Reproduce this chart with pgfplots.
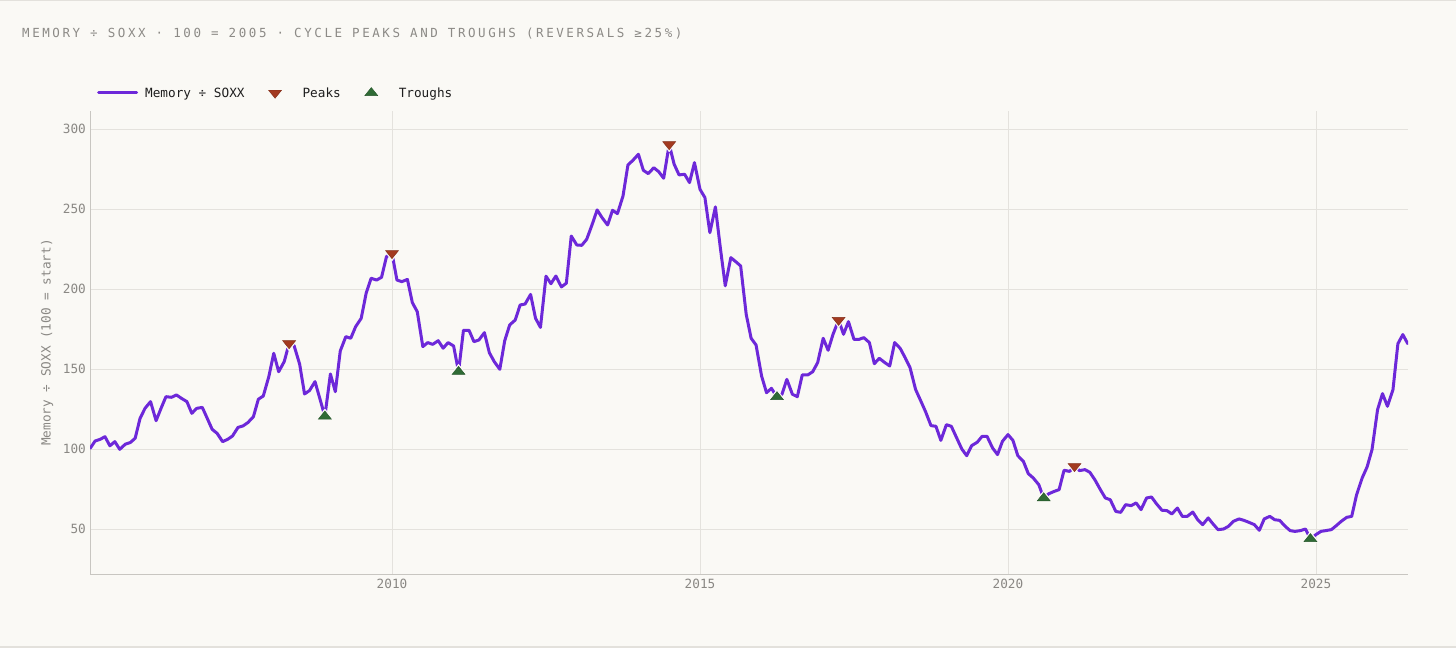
\documentclass[border=0pt]{standalone}
\usepackage{fontspec}
\setmainfont{DejaVu Sans Mono}
\newfontfamily\titlefont[LetterSpace=20.5]{DejaVu Sans Mono}
\usepackage{pgfplots}
\usepackage{pgfplotstable}
\pgfplotsset{compat=1.18}
\definecolor{bg}{HTML}{FAF9F5}
\definecolor{linec}{HTML}{6D28D9}
\definecolor{peakc}{HTML}{A33A20}
\definecolor{troughc}{HTML}{2F6B35}
\definecolor{gridc}{HTML}{E4E2DD}
\definecolor{axisc}{HTML}{C8C6C1}
\definecolor{tickc}{HTML}{8A8884}
\definecolor{titlec}{HTML}{8C8A86}
\definecolor{legc}{HTML}{1E1E1E}
\definecolor{bordc}{HTML}{E3E1DC}

\pgfplotsset{
  lineleg/.style={legend image code/.code={\draw[##1] (0pt,0pt) -- (38pt,0pt);}},
  markleg/.style={legend image code/.code={\path[draw=none,fill=none] (0pt,-4.5pt) (27pt,4.5pt);
    \draw[mark repeat=2, mark phase=2, ##1] plot coordinates {(0pt,0pt) (6.5pt,0pt) (13pt,0pt)};}},
}

\pgfplotstableread{
x y
2005.10 100.4
2005.18 105
2005.26 106
2005.34 107.7
2005.42 102
2005.50 104.6
2005.58 99.8
2005.67 103
2005.75 104
2005.83 106.7
2005.91 119.2
2005.99 125.4
2006.08 129.6
2006.17 117.7
2006.25 125.4
2006.33 132.7
2006.42 132.3
2006.50 133.8
2006.58 131.7
2006.67 129.6
2006.75 122.3
2006.83 125.4
2006.92 126
2007.00 119.2
2007.08 112.3
2007.16 109.8
2007.25 104.6
2007.33 106
2007.41 108.1
2007.50 113.5
2007.58 114.4
2007.66 116.5
2007.75 120.2
2007.83 131.1
2007.91 133.1
2008.00 145.2
2008.08 159.8
2008.16 148.3
2008.25 154.6
2008.33 166
2008.41 164.6
2008.50 153.1
2008.58 134.4
2008.66 136.5
2008.75 142.1
2008.83 131.3
2008.91 120.4
2009.00 146.9
2009.08 135.8
2009.16 161.3
2009.25 170.2
2009.33 169.2
2009.41 176.5
2009.50 181.7
2009.58 197.3
2009.66 206.7
2009.75 205.6
2009.83 207.3
2009.91 220.2
2010.00 222.3
2010.08 205.6
2010.16 204.6
2010.25 206
2010.33 191.5
2010.41 185.8
2010.50 164
2010.58 166.5
2010.66 165.4
2010.75 167.7
2010.83 163
2010.91 166.5
2011.00 164.4
2011.08 148.3
2011.16 174.2
2011.25 174.2
2011.33 167.1
2011.41 168.1
2011.50 172.7
2011.58 160.2
2011.66 154.6
2011.75 149.8
2011.83 167.7
2011.91 177.5
2012.00 180.6
2012.08 190
2012.16 190.6
2012.25 196.6
2012.33 181.7
2012.41 176
2012.50 208
2012.58 203.3
2012.66 208.1
2012.75 201.3
2012.83 203.6
2012.91 233.1
2013.00 227.5
2013.08 227.3
2013.16 231
2013.25 240.4
2013.33 249.4
2013.41 244.6
2013.50 240
2013.58 249.2
2013.66 247.1
2013.75 258.1
2013.83 277.5
2013.91 280.4
2014.00 284.2
2014.08 274.2
2014.16 272.1
2014.25 275.8
2014.33 273.3
2014.41 269.2
2014.50 290.4
2014.58 278
2014.66 271.3
2014.75 271.7
2014.83 266.5
2014.91 279
2015.00 262.3
2015.08 257.1
2015.16 235.2
2015.25 251.3
2015.33 225.8
2015.41 202
2015.50 219.6
2015.58 217.1
2015.66 214.4
2015.75 184.2
2015.83 169.2
2015.91 165
2016.00 145.6
2016.08 135.2
2016.16 137.9
2016.25 132.5
2016.33 134.2
2016.41 143.5
2016.50 134.2
2016.58 132.7
2016.66 146.3
2016.75 146.3
2016.83 148.3
2016.91 154
2017.00 169.2
2017.08 161.7
2017.16 171.7
2017.25 180.6
2017.33 171.7
2017.41 179.6
2017.50 168.5
2017.58 168.5
2017.66 169.6
2017.75 166.5
2017.83 153.3
2017.91 156.7
2018.00 154
2018.08 151.9
2018.16 166.5
2018.25 162.9
2018.33 157.1
2018.41 150.8
2018.50 137.2
2018.58 130.4
2018.66 123.5
2018.75 114.6
2018.83 114.2
2018.91 105.4
2019.00 115.2
2019.08 114.2
2019.16 107.5
2019.25 100
2019.33 95.8
2019.41 102.1
2019.50 104.2
2019.58 107.9
2019.66 107.9
2019.75 100.6
2019.83 96.5
2019.91 104.8
2020.00 109
2020.08 105.4
2020.16 95.8
2020.25 92.3
2020.33 84.6
2020.41 81.9
2020.50 77.7
2020.58 69.3
2020.66 72
2020.75 73.5
2020.83 74.6
2020.91 86.7
2021.00 86
2021.08 89.2
2021.16 86.5
2021.25 87.1
2021.33 85.4
2021.41 80.8
2021.50 74.6
2021.58 69.4
2021.66 68.3
2021.75 61
2021.83 60.4
2021.91 65.2
2022.00 64.6
2022.08 66.3
2022.16 62.1
2022.25 69.4
2022.33 70
2022.41 65.8
2022.50 61.7
2022.58 61.5
2022.66 59.4
2022.75 63.1
2022.83 57.9
2022.91 57.9
2023.00 60.6
2023.08 55.8
2023.16 52.7
2023.25 56.9
2023.33 53.1
2023.41 49.6
2023.50 50
2023.58 51.7
2023.66 54.8
2023.75 56.3
2023.83 55.4
2023.91 54.2
2024.00 52.7
2024.08 49.2
2024.16 56.3
2024.25 57.9
2024.33 55.8
2024.41 55.4
2024.50 51.7
2024.58 49
2024.66 48.5
2024.75 49
2024.83 50
2024.91 43.8
2025.00 46.5
2025.08 48.5
2025.16 49
2025.25 49.6
2025.33 52.1
2025.41 54.8
2025.50 57.3
2025.58 57.9
2025.66 71.5
2025.75 81.9
2025.83 88.8
2025.91 99.6
2026.00 124.6
2026.08 134.6
2026.16 126.7
2026.25 137.1
2026.33 165.8
2026.41 171.5
2026.49 165.8
}\series

\pgfplotstableread{
x y
2008.33 166
2010.00 222.3
2014.50 290.4
2017.25 180.6
2021.08 89.2
}\peaks

\pgfplotstableread{
x y
2008.91 120.4
2011.08 148.3
2016.25 132.5
2020.58 69.3
2024.91 43.8
}\troughs

\begin{document}
\begin{tikzpicture}
\fill[bg] (0pt,0pt) rectangle (1456pt,648pt);
\useasboundingbox (0pt,0pt) rectangle (1456pt,648pt);
\fill[bordc] (0pt,646.6pt) rectangle (1456pt,648pt);
\fill[bordc] (0pt,0pt) rectangle (1456pt,2.5pt);
\node[anchor=base west, text=titlec, inner sep=0pt, font=\titlefont\fontsize{12.5}{14}\selectfont] at (22pt,610pt) {MEMORY ÷ SOXX · 100 = 2005 · CYCLE PEAKS AND TROUGHS (REVERSALS ≥25\%)};
\begin{axis}[
  at={(90pt,74pt)}, anchor=south west,
  scale only axis, width=1318pt, height=463pt,
  xmin=2005.097, xmax=2026.494,
  ymin=21.875, ymax=311.25,
  axis x line*=bottom, axis y line*=left,
  axis line style={draw=axisc, line width=1pt, -},
  xtick={2010,2015,2020,2025},
  ytick={50,100,150,200,250,300},
  major tick length=0pt,
  grid=major,
  major grid style={draw=gridc, line width=0.9pt},
  /pgf/number format/1000 sep={},
  /pgf/number format/assume math mode=true,
  tick label style={font=\fontsize{12.7}{15}\selectfont, text=tickc, inner sep=0pt},
  yticklabel style={anchor=east, xshift=-4pt},
  xticklabel style={anchor=north, yshift=-4.5pt},
  ylabel={Memory ÷ SOXX (100 = start)},
  ylabel style={at={(axis description cs:-0.0326,0.5)}, anchor=center, font=\fontsize{12.7}{15}\selectfont, text=tickc, inner sep=0pt},
  legend columns=-1,
  legend style={at={(0.0053,1.039)}, anchor=west, draw=none, fill=none,
    inner xsep=0pt, inner ysep=0pt,
    nodes={inner sep=0pt, text depth=0pt, text=legc},
    font=\fontsize{12.7}{15}\selectfont,
    /tikz/every odd column/.append style={column sep=7pt},
    /tikz/every even column/.append style={column sep=24pt}},
]
\addplot[draw=linec, line width=3pt, line join=round, line cap=round, lineleg] table {\series};
\addlegendentry{Memory ÷ SOXX}
\addplot[only marks, forget plot, mark=triangle*, mark size=10pt,
  mark options={rotate=180, yscale=0.75, fill=bg, draw=bg}] table {\peaks};
\addplot[only marks, forget plot, mark=triangle*, mark size=10pt,
  mark options={yscale=0.75, fill=bg, draw=bg}] table {\troughs};
\addplot[only marks, mark=triangle*, mark size=7.5pt,
  mark options={rotate=180, yscale=0.72, fill=peakc, draw=peakc!80!black, line width=0.4pt},
  markleg] table {\peaks};
\addlegendentry{Peaks}
\addplot[only marks, mark=triangle*, mark size=7.5pt,
  mark options={yscale=0.72, fill=troughc, draw=troughc!80!black, line width=0.4pt},
  markleg] table {\troughs};
\addlegendentry{Troughs}
\end{axis}
\end{tikzpicture}
\end{document}
